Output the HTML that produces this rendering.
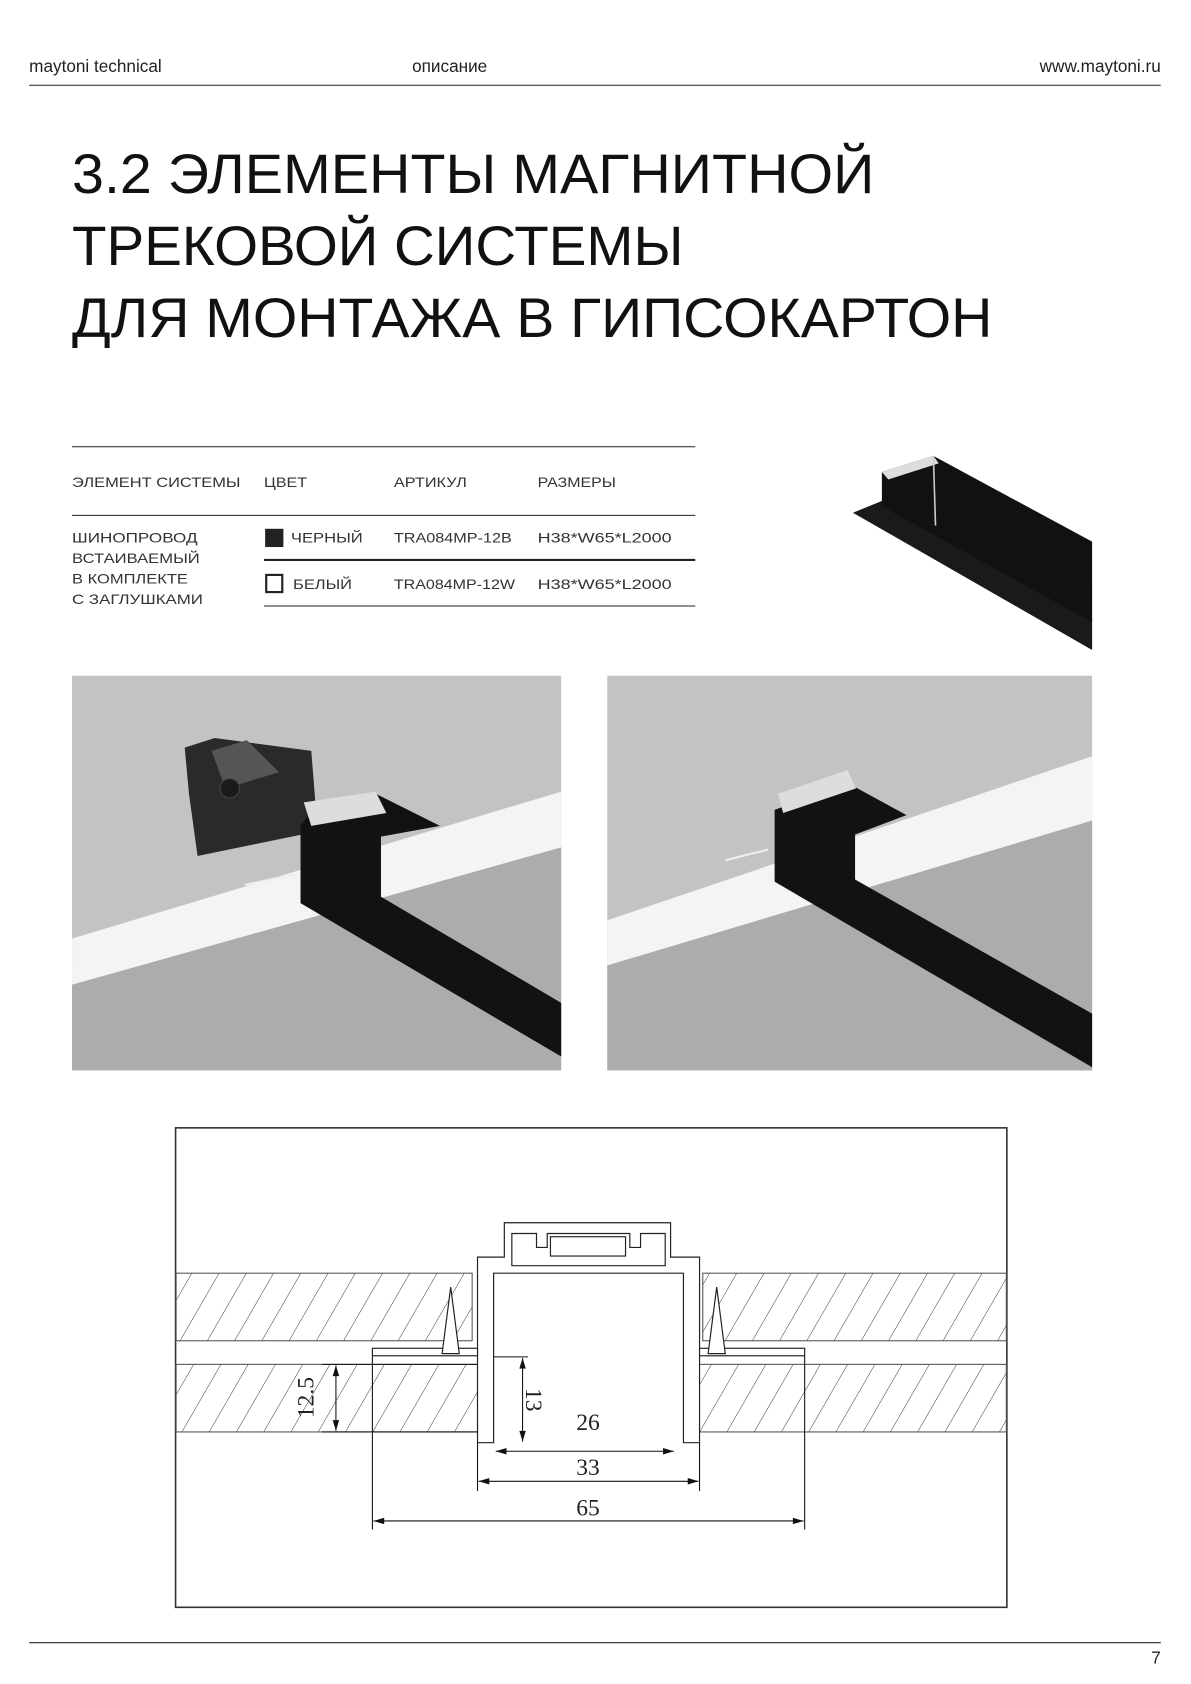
<!DOCTYPE html>
<html><head><meta charset="utf-8"><style>html,body{margin:0;padding:0;background:#fff}svg{display:block}</style></head><body>
<svg width="1191" height="1684" viewBox="0 0 1110 1570" xmlns="http://www.w3.org/2000/svg" font-family="Liberation Sans, sans-serif">
<defs>
<pattern id="h" patternUnits="userSpaceOnUse" width="22" height="22" patternTransform="rotate(30)">
<line x1="0" y1="0" x2="0" y2="22" stroke="#333" stroke-width="0.9"/>
</pattern>
<marker id="a" viewBox="0 0 10 6" refX="10" refY="3" markerWidth="16" markerHeight="6" markerUnits="userSpaceOnUse" orient="auto-start-reverse"><path d="M0 0 L10 3 L0 6z" fill="#111"/></marker>
</defs>
<rect width="1110" height="1570" fill="#fff"/>
<!-- header -->
<text x="27" y="67" font-size="16" fill="#222">maytoni technical</text>
<text x="384" y="67" font-size="16" fill="#222">описание</text>
<text x="1082" y="67" font-size="16" fill="#222" text-anchor="end">www.maytoni.ru</text>
<line x1="27" y1="79.5" x2="1082" y2="79.5" stroke="#222" stroke-width="1"/>
<!-- title -->
<g font-size="52" fill="#111">
<text x="67" y="180" textLength="748" lengthAdjust="spacingAndGlyphs">3.2 ЭЛЕМЕНТЫ МАГНИТНОЙ</text>
<text x="67" y="247" textLength="570" lengthAdjust="spacingAndGlyphs">ТРЕКОВОЙ СИСТЕМЫ</text>
<text x="67" y="314" textLength="858" lengthAdjust="spacingAndGlyphs">ДЛЯ МОНТАЖА В ГИПСОКАРТОН</text>
</g>
<!-- table -->
<g stroke="#222">
<line x1="67" y1="416.5" x2="648" y2="416.5" stroke-width="1"/>
<line x1="67" y1="480.5" x2="648" y2="480.5" stroke-width="1"/>
<line x1="246" y1="522" x2="648" y2="522" stroke-width="2"/>
<line x1="246" y1="565" x2="648" y2="565" stroke-width="1"/>
</g>
<g font-size="13" fill="#333">
<text x="67" y="454" textLength="157" lengthAdjust="spacingAndGlyphs">ЭЛЕМЕНТ СИСТЕМЫ</text>
<text x="246" y="454" textLength="40" lengthAdjust="spacingAndGlyphs">ЦВЕТ</text>
<text x="367" y="454" textLength="68" lengthAdjust="spacingAndGlyphs">АРТИКУЛ</text>
<text x="501" y="454" textLength="73" lengthAdjust="spacingAndGlyphs">РАЗМЕРЫ</text>
<text x="67" y="506" textLength="117" lengthAdjust="spacingAndGlyphs">ШИНОПРОВОД</text>
<text x="67" y="525" textLength="119" lengthAdjust="spacingAndGlyphs">ВСТАИВАЕМЫЙ</text>
<text x="67" y="544" textLength="108" lengthAdjust="spacingAndGlyphs">В КОМПЛЕКТЕ</text>
<text x="67" y="563" textLength="122" lengthAdjust="spacingAndGlyphs">С ЗАГЛУШКАМИ</text>
<text x="271" y="506" textLength="67" lengthAdjust="spacingAndGlyphs">ЧЕРНЫЙ</text>
<text x="367" y="506" textLength="110" lengthAdjust="spacingAndGlyphs">TRA084MP-12B</text>
<text x="501" y="506" textLength="125" lengthAdjust="spacingAndGlyphs">H38*W65*L2000</text>
<text x="273" y="549" textLength="55" lengthAdjust="spacingAndGlyphs">БЕЛЫЙ</text>
<text x="367" y="549" textLength="113" lengthAdjust="spacingAndGlyphs">TRA084MP-12W</text>
<text x="501" y="549" textLength="125" lengthAdjust="spacingAndGlyphs">H38*W65*L2000</text>
</g>
<rect x="247" y="493" width="17" height="17" fill="#222"/>
<rect x="248" y="536" width="15" height="16" fill="none" stroke="#222" stroke-width="2"/>
<!-- product top right -->
<polygon points="795,478 832,463 1018,578 1018,606" fill="#1a1a1a"/>
<polygon points="822,440 870,425 1018,505 1018,580 822,472" fill="#111"/>
<polygon points="822,440 870,425 875,432 828,447" fill="#ddd"/>
<line x1="870" y1="425" x2="872" y2="490" stroke="#ccc" stroke-width="1.5"/>
<!-- photo left -->
<rect x="67" y="630" width="456" height="368" fill="#c3c3c3"/>
<polygon points="67,918 523,790 523,998 67,998" fill="#acacac"/>
<polygon points="67,875 523,738 523,790 67,918" fill="#f4f4f4"/>
<polygon points="172,697 200,688 290,700 296,775 184,798 176,740" fill="#2a2a2a"/>
<polygon points="197,700 230,690 260,720 210,735" fill="#555"/>
<circle cx="214" cy="735" r="9" fill="#1a1a1a" stroke="#444"/>
<polygon points="296,748 350,740 410,770 355,780 355,836 523,935 523,985 280,842 280,770" fill="#121212"/>
<polygon points="283,748 350,738 360,758 290,770" fill="#ddd"/>
<line x1="228" y1="825" x2="275" y2="815" stroke="#eee" stroke-width="2"/>
<!-- photo right -->
<rect x="566" y="630" width="452" height="368" fill="#c3c3c3"/>
<polygon points="566,900 1018,765 1018,998 566,998" fill="#acacac"/>
<polygon points="566,858 1018,705 1018,765 566,900" fill="#f4f4f4"/>
<polygon points="722,755 790,730 845,760 797,778 797,820 1018,945 1018,995 722,822" fill="#121212"/>
<polygon points="725,740 790,718 798,735 730,758" fill="#ddd"/>
<line x1="676" y1="802" x2="716" y2="792" stroke="#eee" stroke-width="2"/>
<!-- drawing -->
<rect x="163.5" y="1051.5" width="775" height="447" fill="#fff" stroke="#333" stroke-width="1.5"/>
<g stroke="#555" stroke-width="1">
<rect x="164" y="1187" width="276" height="63" fill="url(#h)"/>
<rect x="655" y="1187" width="283" height="63" fill="url(#h)"/>
<rect x="164" y="1272" width="281" height="63" fill="url(#h)"/>
<rect x="640" y="1272" width="298" height="63" fill="url(#h)"/>
</g>
<g fill="#fff" stroke="#222" stroke-width="1.1">
<path d="M445 1345 L445 1172 L470 1172 L470 1140 L625 1140 L625 1172 L652 1172 L652 1345 L637 1345 L637 1187 L460 1187 L460 1345 Z"/>
<path d="M477 1150 L500 1150 L500 1163 L510 1163 L510 1150 L587 1150 L587 1163 L597 1163 L597 1150 L620 1150 L620 1180 L477 1180 Z" fill="#fff"/>
<rect x="513" y="1153" width="70" height="18"/>
<rect x="347" y="1257" width="98" height="7"/>
<rect x="652" y="1257" width="98" height="7"/>
<polygon points="420,1200 412,1262 428,1262"/>
<polygon points="668,1200 660,1262 676,1262"/>
</g>
<g stroke="#111" stroke-width="1">
<line x1="347" y1="1264" x2="347" y2="1426"/>
<line x1="750" y1="1264" x2="750" y2="1426"/>
<line x1="445" y1="1345" x2="445" y2="1390"/>
<line x1="652" y1="1345" x2="652" y2="1390"/>
<line x1="462" y1="1353" x2="628" y2="1353" marker-start="url(#a)" marker-end="url(#a)"/>
<line x1="446" y1="1381" x2="651" y2="1381" marker-start="url(#a)" marker-end="url(#a)"/>
<line x1="348" y1="1418" x2="749" y2="1418" marker-start="url(#a)" marker-end="url(#a)"/>
<line x1="313" y1="1273" x2="313" y2="1334" marker-start="url(#a)" marker-end="url(#a)"/>
<line x1="487" y1="1266" x2="487" y2="1344" marker-start="url(#a)" marker-end="url(#a)"/>
<line x1="460" y1="1265" x2="492" y2="1265"/>
<line x1="300" y1="1272" x2="445" y2="1272"/>
<line x1="300" y1="1335" x2="445" y2="1335"/>
</g>
<g font-family="Liberation Serif, serif" font-size="22" fill="#222" text-anchor="middle">
<text x="548" y="1333">26</text>
<text x="548" y="1375">33</text>
<text x="548" y="1413">65</text>
<text transform="translate(292,1303) rotate(-90)">12.5</text>
<text transform="translate(490,1305) rotate(90)">13</text>
</g>
<!-- footer -->
<line x1="27" y1="1531.5" x2="1082" y2="1531.5" stroke="#222" stroke-width="1"/>
<text x="1082" y="1551" font-size="16" fill="#222" text-anchor="end">7</text>
</svg>
</body></html>
